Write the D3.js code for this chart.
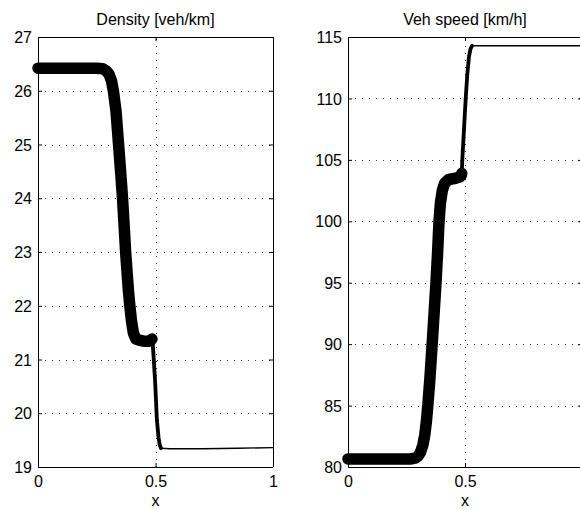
<!DOCTYPE html>
<html><head><meta charset="utf-8">
<script src="https://cdn.jsdelivr.net/npm/d3@7"></script>
<style>body{margin:0;background:#fff}svg text{font-family:"Liberation Sans",Arial,Helvetica,sans-serif;fill:#000}</style>
</head><body><svg id="c" width="580" height="509"></svg>
<script>
// ---- data ----
const densityX = [0, 0.25, 0.275, 0.29, 0.302, 0.313, 0.321, 0.332, 0.343, 0.353, 0.36, 0.368, 0.373, 0.385, 0.391, 0.398, 0.406, 0.417, 0.43, 0.45, 0.47, 0.48, 0.485, 0.489, 0.498, 0.506, 0.513, 0.518, 0.523, 0.56, 0.7, 0.85, 1];
const densityY = [26.42, 26.42, 26.41, 26.37, 26.31, 26.18, 25.99, 25.62, 24.99, 24.41, 23.98, 23.38, 22.99, 22.27, 21.99, 21.71, 21.49, 21.38, 21.36, 21.34, 21.34, 21.36, 21.38, 21.25, 20.62, 19.87, 19.55, 19.41, 19.35, 19.34, 19.34, 19.35, 19.36];
const speedX = [0, 0.27, 0.29, 0.30, 0.31, 0.32, 0.328, 0.335, 0.342, 0.35, 0.363, 0.376, 0.383, 0.389, 0.395, 0.403, 0.413, 0.43, 0.46, 0.478, 0.484, 0.486, 0.489, 0.496, 0.503, 0.51, 0.517, 0.523, 0.53, 0.7, 1];
const speedY = [80.66, 80.66, 80.75, 80.9, 81.2, 81.8, 82.6, 83.7, 85.2, 87.2, 91.0, 95.0, 97.5, 100.0, 101.5, 102.5, 103.1, 103.4, 103.5, 103.6, 103.75, 103.9, 105.2, 107.6, 110.0, 112.0, 113.4, 114.0, 114.29, 114.29, 114.29];
const xTicks = [0, 0.5, 1];
const xTickLabels = ["0", "0.5", "1"];
const densityTicks = [19, 20, 21, 22, 23, 24, 25, 26, 27];
const speedTicks = [80, 85, 90, 95, 100, 105, 110, 115];
const titles = ["Density [veh/km]", "Veh speed [km/h]"];
const xLabel = "x";

const W = 580;
const svg = d3.select("#c");

function panel(cfg) {
  const x = d3.scaleLinear().domain([0, 1]).range([cfg.left, cfg.right]);
  const y = d3.scaleLinear().domain(cfg.yDomain).range([467, 37]);
  const g = svg.append("g");
  // grid
  const grid = g.append("g").attr("stroke", "#333").attr("stroke-width", 1).attr("stroke-dasharray", "1,6");
  cfg.yTicks.forEach(t => {
    grid.append("line").attr("x1", x(0)).attr("x2", x(1)).attr("y1", Math.round(y(t)) + 0.5).attr("y2", Math.round(y(t)) + 0.5);
  });
  xTicks.forEach(t => {
    grid.append("line").attr("x1", Math.round(x(t)) + 0.5).attr("x2", Math.round(x(t)) + 0.5).attr("y1", y.range()[0]).attr("y2", y.range()[1]);
  });
  // axes with inward ticks
  const yAxisL = d3.axisLeft(y).tickValues(cfg.yTicks).tickSize(-4).tickFormat(d3.format("d"));
  const yAxisR = d3.axisRight(y).tickValues(cfg.yTicks).tickSize(-4).tickFormat("");
  const xAxisB = d3.axisBottom(x).tickValues(xTicks).tickSize(-4).tickFormat((d, i) => xTickLabels[i]);
  const xAxisT = d3.axisTop(x).tickValues(xTicks).tickSize(-4).tickFormat("");
  const styleAxis = a => { a.select(".domain").attr("stroke", "#000"); a.selectAll(".tick line").attr("stroke", "#000"); a.selectAll("text").attr("font-size", 16).attr("font-family", null); };
  g.append("g").attr("transform", `translate(${x(0)},0)`).call(yAxisL).call(a => { a.select(".domain").attr("d", `M0.5,${y.range()[1]}V${y.range()[0]}`); styleAxis(a); a.selectAll("text").attr("dy", "0.35em").attr("x", -6); });
  g.append("g").attr("transform", `translate(${x(1)},0)`).call(yAxisR).call(a => { a.select(".domain").attr("d", `M0.5,${y.range()[1]}V${y.range()[0]}`); styleAxis(a); });
  g.append("g").attr("transform", `translate(0,${y.range()[0]})`).call(xAxisB).call(a => {
    a.select(".domain").attr("d", `M${x(0)},0.5H${x(1)}`); styleAxis(a);
    a.selectAll("text").attr("dy", null).attr("y", 20);
    // labels whose position lies beyond the window are not shown (as in the reference)
    a.selectAll(".tick").filter(d => x(d) > W - 4).select("text").remove();
  });
  g.append("g").attr("transform", `translate(0,${y.range()[1]})`).call(xAxisT).call(a => { a.select(".domain").attr("d", `M${x(0)},0.5H${x(1)}`); styleAxis(a); });
  // title and label
  g.append("text").attr("x", (x(0) + x(1)) / 2).attr("y", 25).attr("text-anchor", "middle").attr("font-size", 16).text(cfg.title);
  g.append("text").attr("x", (x(0) + x(1)) / 2).attr("y", 506).attr("text-anchor", "middle").attr("font-size", 16).text(xLabel);
  // data curve, drawn with marker-size rule depending on x
  const pts = cfg.xs.map((v, i) => [v, cfg.ys[i]]);
  const line = d3.line().x(d => x(d[0])).y(d => y(d[1]));
  const thick = pts.filter(d => d[0] <= cfg.thickEnd);
  const mid = pts.filter(d => d[0] >= cfg.thickEnd && d[0] <= cfg.midEnd);
  const thin = pts.filter(d => d[0] >= cfg.midEnd);
  const cg = g.append("g").attr("fill", "none").attr("stroke", "#000").attr("stroke-linecap", "round").attr("stroke-linejoin", "round");
  cg.append("path").attr("d", line(thin)).attr("stroke-width", 1.4);
  cg.append("path").attr("d", line(mid)).attr("stroke-width", 3.8);
  cg.append("path").attr("d", line(thick)).attr("stroke-width", 11.5);
}

panel({left: 38, right: 273, yDomain: [19, 27], yTicks: densityTicks, xs: densityX, ys: densityY, thickEnd: 0.485, midEnd: 0.523, title: titles[0]});
panel({left: 348, right: 582, yDomain: [80, 115], yTicks: speedTicks, xs: speedX, ys: speedY, thickEnd: 0.486, midEnd: 0.53, title: titles[1]});
</script>
</body></html>
